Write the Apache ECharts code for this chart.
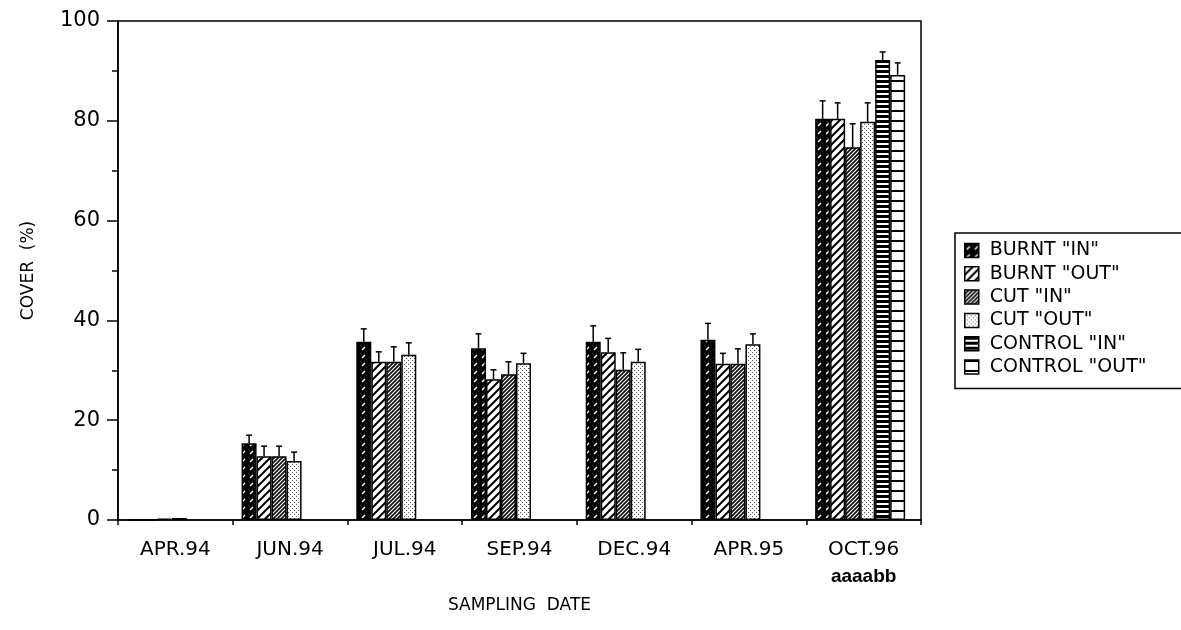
<!DOCTYPE html>
<html>
<head>
<meta charset="utf-8">
<script src="https://cdn.jsdelivr.net/npm/echarts@6/dist/echarts.min.js"></script>
<style>
  html, body { margin: 0; padding: 0; background: #fff; }
  #chart { width: 1181px; height: 630px; }
</style>
</head>
<body>
<div id="chart"></div>
<script>
// sampling dates
const dates = ['APR.94', 'JUN.94', 'JUL.94', 'SEP.94', 'DEC.94', 'APR.95', 'OCT.96']
const seriesNames = ['BURNT "IN"', 'BURNT "OUT"', 'CUT "IN"', 'CUT "OUT"', 'CONTROL "IN"', 'CONTROL "OUT"']

// cover (%)
const burntIn = [0, 15.4, 35.7, 34.4, 35.7, 36.1, 80.4]
const burntOut = [0, 12.8, 31.7, 28.2, 33.6, 31.3, 80.4]
const cutIn = [0.3, 12.8, 31.7, 29.2, 30.1, 31.3, 74.7]
const cutOut = [0.4, 11.8, 33.1, 31.4, 31.7, 35.2, 79.8]
const controlIn = ['-', '-', '-', '-', '-', '-', 92.2]
const controlOut = ['-', '-', '-', '-', '-', '-', 89.2]

// upper error bars (same order)
const burntInErr = ['-', 1.6, 2.6, 2.9, 3.2, 3.3, 3.6]
const burntOutErr = ['-', 2.0, 2.0, 1.9, 2.8, 2.1, 3.2]
const cutInErr = ['-', 2.0, 3.0, 2.5, 3.4, 3.0, 4.7]
const cutOutErr = ['-', 1.8, 2.4, 2.0, 2.5, 2.1, 3.8]
const controlInErr = ['-', '-', '-', '-', '-', '-', 1.6]
const controlOutErr = ['-', '-', '-', '-', '-', '-', 2.4]

// significance letters under the last date
const letters = ['', '', '', '', '', '', 'aaaabb']

const yTicks = [0, 20, 40, 60, 80, 100]

const values = [burntIn, burntOut, cutIn, cutOut, controlIn, controlOut]
const errors = [burntInErr, burntOutErr, cutInErr, cutOutErr, controlInErr, controlOutErr]

// hatch fills drawn on small canvases
function makeTile (w, h, draw) {
  let c = document.createElement('canvas')
  c.width = w
  c.height = h
  let ctx = c.getContext('2d')
  draw(ctx, w, h)
  return { image: c, repeat: 'repeat' }
}
function diag (ctx, w, h) {
  ctx.beginPath()
  ctx.moveTo(-1, h + 1); ctx.lineTo(w + 1, -1)
  ctx.moveTo(-1 - w, h + 1); ctx.lineTo(1, -1)
  ctx.moveTo(w - 1, h + 1); ctx.lineTo(2 * w + 1, -1)
  ctx.stroke()
}
const fills = [
  makeTile(8, 8, function (ctx, w, h) {
    ctx.fillStyle = '#000'; ctx.fillRect(0, 0, w, h)
    ctx.strokeStyle = '#fff'; ctx.lineWidth = 1.4
    ctx.beginPath(); ctx.moveTo(2, 6); ctx.lineTo(5, 3); ctx.stroke()
  }),
  makeTile(8, 8, function (ctx, w, h) {
    ctx.fillStyle = '#fff'; ctx.fillRect(0, 0, w, h)
    ctx.strokeStyle = '#000'; ctx.lineWidth = 2
    diag(ctx, w, h)
  }),
  makeTile(4, 4, function (ctx, w, h) {
    ctx.fillStyle = '#fff'; ctx.fillRect(0, 0, w, h)
    ctx.strokeStyle = '#111'; ctx.lineWidth = 1.7
    diag(ctx, w, h)
  }),
  makeTile(4, 4, function (ctx, w, h) {
    ctx.fillStyle = '#fff'; ctx.fillRect(0, 0, w, h)
    ctx.fillStyle = '#555'
    ctx.fillRect(0, 0, 1, 1); ctx.fillRect(2, 2, 1, 1)
  }),
  makeTile(4, 5, function (ctx, w, h) {
    ctx.fillStyle = '#fff'; ctx.fillRect(0, 0, w, h)
    ctx.fillStyle = '#000'; ctx.fillRect(0, 0, w, 3)
  }),
  makeTile(4, 10, function (ctx, w, h) {
    ctx.fillStyle = '#fff'; ctx.fillRect(0, 0, w, h)
    ctx.fillStyle = '#000'; ctx.fillRect(0, 0, w, 2)
  })
]

const BAR_W = 15
const GROUP_W = BAR_W * 6 + 7 // 7px spacer series pushes the group left

let errData = []
for (let s = 0; s < errors.length; s++) {
  for (let i = 0; i < dates.length; i++) {
    if (errors[s][i] !== '-' && values[s][i] !== '-') {
      errData.push([i, s, values[s][i], errors[s][i]])
    }
  }
}

let chart = echarts.init(document.getElementById('chart'))
let barSeries = seriesNames.map(function (name, s) {
  return {
    name: name,
    type: 'bar',
    data: values[s],
    barWidth: BAR_W,
    barGap: 0,
    itemStyle: { color: fills[s], borderColor: '#000', borderWidth: 1.5 },
    emphasis: { disabled: true },
    z: 3
  }
})
barSeries.push({ name: 'spacer', type: 'bar', data: [], barWidth: 7, barGap: 0, silent: true })

chart.setOption({
  animation: false,
  textStyle: { fontFamily: 'DejaVu Sans', color: '#000' },
  grid: {
    left: 118, right: 260, top: 21, bottom: 110,
    show: true, borderColor: '#000', borderWidth: 1.5
  },
  legend: {
    data: seriesNames,
    orient: 'vertical',
    left: 955,
    top: 233,
    icon: 'rect',
    itemWidth: 14,
    itemHeight: 14,
    itemGap: 4.3,
    padding: [8, 40, 12, 9],
    borderColor: '#000',
    borderWidth: 1.5,
    borderRadius: 0,
    selectedMode: false,
    itemStyle: { borderColor: '#000', borderWidth: 1.5 },
    textStyle: { fontFamily: 'DejaVu Sans', fontSize: 19, color: '#000', padding: [0, 0, 0, 6] }
  },
  xAxis: {
    type: 'category',
    data: dates,
    name: 'SAMPLING  DATE',
    nameLocation: 'middle',
    nameGap: 77,
    nameTextStyle: { fontSize: 17, color: '#000', fontFamily: 'DejaVu Sans' },
    axisLine: { lineStyle: { color: '#000', width: 1.5 } },
    axisTick: { show: true, length: 5, lineStyle: { color: '#000', width: 1.5 } },
    axisLabel: {
      margin: 16,
      color: '#000',
      formatter: function (v, i) {
        return letters[i] ? '{a|' + v + '}\n{b|' + letters[i] + '}' : '{a|' + v + '}'
      },
      rich: {
        a: { fontSize: 20, lineHeight: 27, fontFamily: 'DejaVu Sans', color: '#000' },
        b: { fontSize: 19, lineHeight: 27, fontFamily: 'Liberation Sans', fontWeight: 'bold', color: '#000' }
      }
    }
  },
  yAxis: {
    type: 'value',
    min: yTicks[0],
    max: yTicks[yTicks.length - 1],
    interval: yTicks[1] - yTicks[0],
    name: 'COVER  (%)',
    nameLocation: 'middle',
    nameGap: 81,
    nameTextStyle: { fontSize: 17, color: '#000', fontFamily: 'DejaVu Sans' },
    axisLine: { show: true, lineStyle: { color: '#000', width: 1.5 } },
    axisTick: { show: true, length: 11, lineStyle: { color: '#000', width: 1.5 } },
    minorTick: { show: true, splitNumber: 2, length: 6, lineStyle: { color: '#000', width: 1.5 } },
    splitLine: { show: false },
    axisLabel: { fontSize: 21, color: '#000', margin: 18, fontFamily: 'DejaVu Sans' }
  },
  series: barSeries.concat([{
    type: 'custom',
    silent: true,
    z: 4,
    data: errData,
    encode: { x: 0, y: 2 },
    renderItem: function (params, api) {
      let idx = api.value(0)
      let s = api.value(1)
      let base = api.coord([idx, api.value(2)])
      let top = api.coord([idx, api.value(2) + api.value(3)])
      let x = base[0] - GROUP_W / 2 + BAR_W * s + BAR_W / 2
      let st = { stroke: '#000', lineWidth: 1.5 }
      return {
        type: 'group',
        children: [
          { type: 'line', shape: { x1: x, y1: base[1], x2: x, y2: top[1] }, style: st },
          { type: 'line', shape: { x1: x - 3, y1: top[1], x2: x + 3, y2: top[1] }, style: st }
        ]
      }
    }
  }])
})
</script>
</body>
</html>
